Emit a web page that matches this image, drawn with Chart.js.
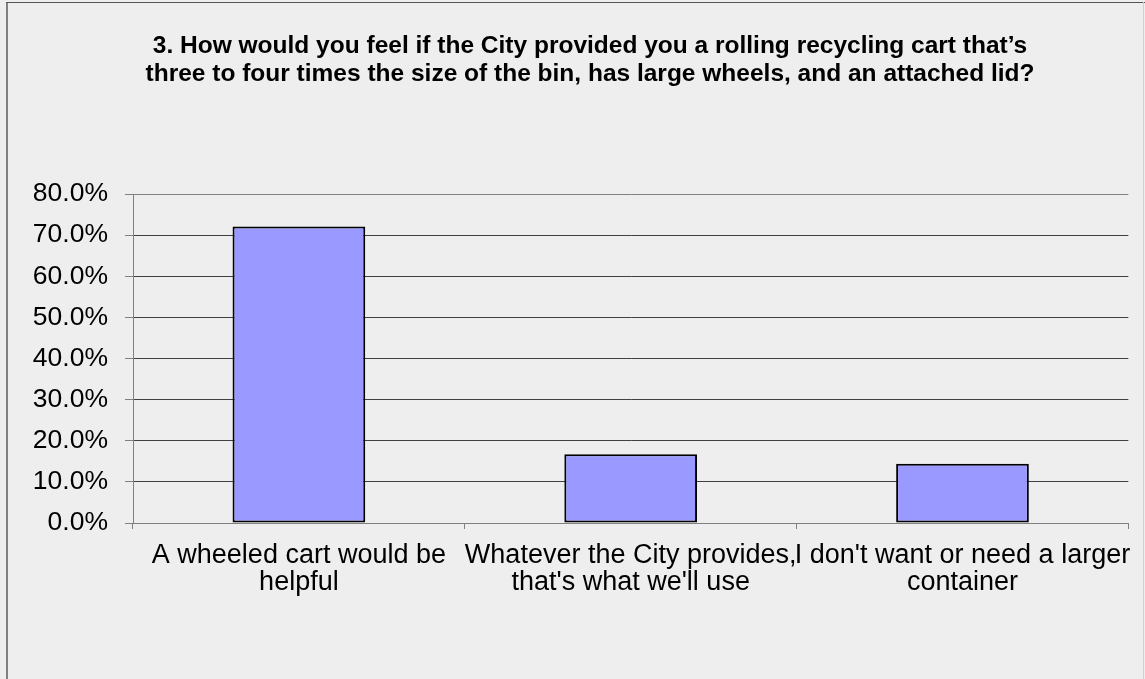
<!DOCTYPE html>
<html>
<head>
<meta charset="utf-8">
<script src="https://cdn.jsdelivr.net/npm/chart.js@4"></script>
<style>
    html, body { margin: 0; padding: 0; background: #eeeeee; }
    #chart { display: block; }
</style>
</head>
<body>
<canvas id="chart" width="1145" height="679"></canvas>
<script>
const titleLines = [
    "3. How would you feel if the City provided you a rolling recycling cart that\u2019s",
    "three to four times the size of the bin, has large wheels, and an attached lid?"
];
const categories = [
    ["A wheeled cart would be", "helpful"],
    ["Whatever the City provides,", "that's what we'll use"],
    ["I don't want or need a larger", "container"]
];
const percents = [72.1, 16.7, 14.4];
const yTicks = [0, 10, 20, 30, 40, 50, 60, 70, 80];

const FONT = "'Liberation Sans', Arial, sans-serif";

// grey page, frame lines, and the two-line heading over the plot
const frame = {
    id: "frame",
    beforeDraw(chart) {
        const ctx = chart.ctx;
        ctx.save();
        ctx.fillStyle = "#eeeeee";
        ctx.fillRect(0, 0, chart.width, chart.height);
        ctx.fillStyle = "#808080";
        ctx.fillRect(6, 2, 2, chart.height - 2);
        ctx.fillStyle = "#555555";
        ctx.fillRect(6, 2, chart.width - 6, 1);
        ctx.fillStyle = "#d0d0d0";
        ctx.fillRect(1143, 2, 1, chart.height - 2);

        ctx.fillStyle = "#000000";
        ctx.font = "bold 24.5px " + FONT;
        ctx.textAlign = "center";
        ctx.textBaseline = "middle";
        titleLines.forEach((line, i) => {
            ctx.fillText(line, 590, 46 + i * 28.5);
        });
        ctx.restore();
    }
};

const edgeColor = (c) => (c.tick && (c.tick.value === 0 || c.tick.value === 80)) ? "#808080" : "#404040";

new Chart(document.getElementById("chart"), {
    type: "bar",
    data: {
        labels: categories,
        datasets: [{
            data: percents,
            backgroundColor: "#9999ff",
            borderColor: "#000000",
            borderWidth: 2,
            borderSkipped: false,
            barPercentage: 0.4,
            categoryPercentage: 1
        }]
    },
    options: {
        responsive: false,
        animation: false,
        layout: { padding: { left: 14, right: 11, top: 194, bottom: 0 } },
        plugins: {
            legend: { display: false },
            tooltip: { enabled: false },
            title: { display: false }
        },
        scales: {
            x: {
                afterFit(scale) { scale.height = 156; },
                grid: {
                    offset: true,
                    drawOnChartArea: false,
                    tickLength: 6,
                    tickColor: "#808080"
                },
                border: { color: "#808080", width: 1 },
                ticks: {
                    color: "#000000",
                    padding: 13,
                    maxRotation: 0,
                    autoSkip: false,
                    font: { family: FONT, size: 27, lineHeight: 1.0 }
                }
            },
            y: {
                min: 0,
                max: 80,
                afterFit(scale) { scale.width = 119; },
                afterBuildTicks(scale) {
                    scale.ticks = yTicks.map((v) => ({ value: v }));
                },
                grid: {
                    color: edgeColor,
                    tickColor: "#808080",
                    tickLength: 8,
                    lineWidth: 1
                },
                border: { color: "#808080", width: 1 },
                ticks: {
                    color: "#000000",
                    padding: 17,
                    font: { family: FONT, size: 26.5 },
                    callback: (v) => v.toFixed(1) + "%"
                }
            }
        }
    },
    plugins: [frame]
});
</script>
</body>
</html>
